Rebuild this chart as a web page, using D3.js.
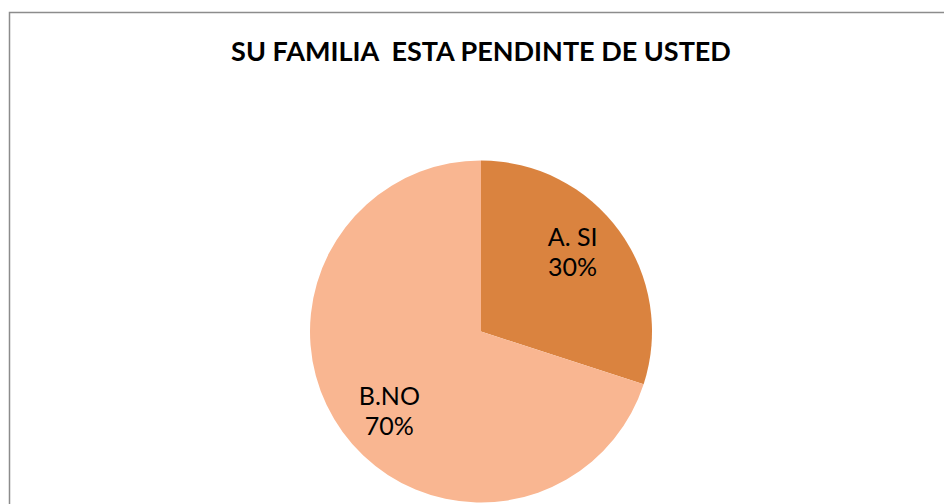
<!DOCTYPE html>
<html>
<head>
<meta charset="utf-8">
<script src="https://cdn.jsdelivr.net/npm/d3@7"></script>
<style>
  body { margin: 0; background: #fff; }
  svg { display: block; font-family: Lato, "Open Sans", sans-serif; }
</style>
</head>
<body>
<svg id="pie"></svg>
<script>
// chart data
const categories = ["A. SI", "B.NO"];
const values = [30, 70];
const percentLabels = ["30%", "70%"];
const colors = ["#da833f", "#f9b691"];
const title = "SU FAMILIA\u00a0 ESTA PENDINTE DE USTED";

let width = 944, height = 504;

let svg = d3.select("#pie")
    .attr("width", width)
    .attr("height", height);

// chart area border (cut off at the right and bottom like the original)
svg.append("rect")
    .attr("x", 9.5)
    .attr("y", 12.5)
    .attr("width", 1000)
    .attr("height", 600)
    .attr("fill", "none")
    .attr("stroke", "#8c8c8c")
    .attr("stroke-width", 1.5);

svg.append("text")
    .attr("x", 481)
    .attr("y", 61)
    .attr("text-anchor", "middle")
    .attr("font-weight", "bold")
    .attr("font-size", 27)
    .attr("fill", "#000")
    .text(title);

// pie
const cx = 481, cy = 331.5, radius = 171;

let pie = d3.pie().sort(null).value(function (d) { return d; });
let arc = d3.arc().innerRadius(0).outerRadius(radius);

let g = svg.append("g")
    .attr("transform", "translate(" + cx + "," + cy + ")");

let arcs = pie(values);

g.selectAll("path")
    .data(arcs)
    .enter().append("path")
    .attr("d", arc)
    .attr("fill", function (d, i) { return colors[i]; });

// labels sit a bit before the middle of each slice
const labelR = radius * 0.71, shift = -5 * Math.PI / 180;
let labels = g.selectAll(".lbl")
    .data(arcs)
    .enter().append("text")
    .attr("class", "lbl")
    .attr("text-anchor", "middle")
    .attr("font-size", 25)
    .attr("fill", "#000")
    .attr("transform", function (d) {
        let a = (d.startAngle + d.endAngle) / 2 + shift;
        return "translate(" + (labelR * Math.sin(a)) + "," + (-labelR * Math.cos(a)) + ")";
    });

labels.append("tspan")
    .attr("x", 0)
    .attr("dy", "-0.24em")
    .text(function (d, i) { return categories[i]; });

labels.append("tspan")
    .attr("x", 0)
    .attr("dy", "1.2em")
    .text(function (d, i) { return percentLabels[i]; });
</script>
</body>
</html>
